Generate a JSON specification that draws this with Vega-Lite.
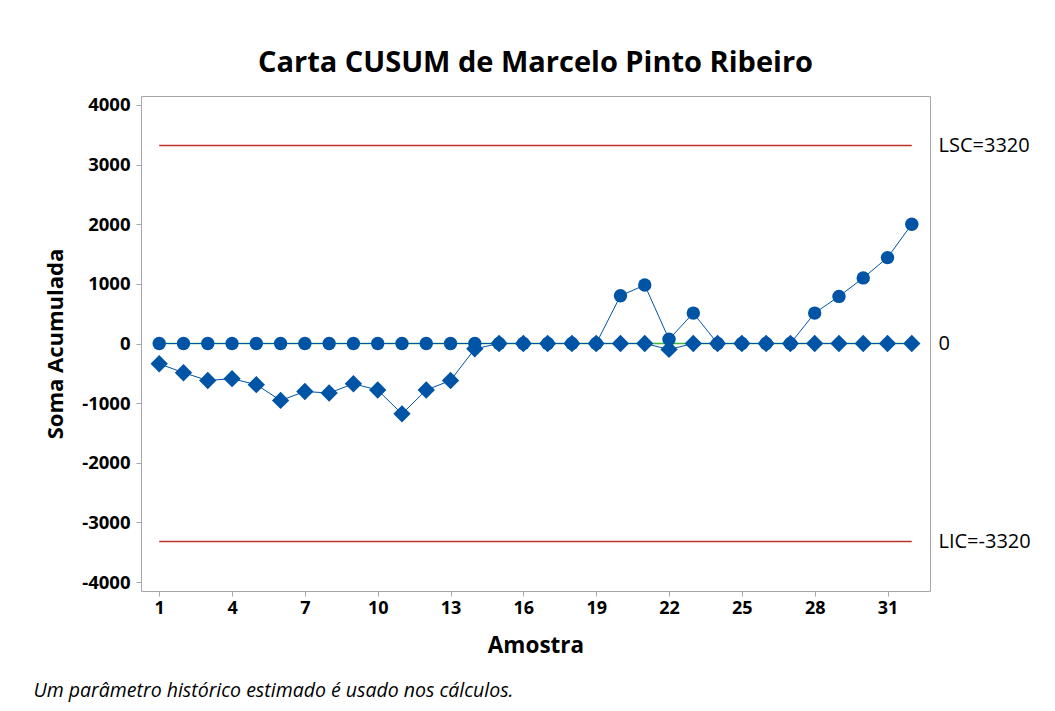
{
  "$schema": "https://vega.github.io/schema/vega-lite/v6.json",
  "width": 789,
  "height": 495,
  "autosize": {"type": "none"},
  "padding": {"left": 141, "top": 96, "right": 125, "bottom": 120},
  "background": "white",
  "config": {
    "font": "Open Sans",
    "view": {"stroke": "#A6A6A6", "strokeWidth": 1}
  },
  "title": {
    "text": "Carta CUSUM de Marcelo Pinto Ribeiro",
    "fontSize": 29,
    "fontWeight": "bold",
    "font": "Open Sans",
    "color": "#000000",
    "anchor": "middle",
    "offset": 18
  },
  "datasets": {
    "cusum": [
      {"amostra": 1, "serie": "Superior", "cusum": 0},
      {"amostra": 2, "serie": "Superior", "cusum": 0},
      {"amostra": 3, "serie": "Superior", "cusum": 0},
      {"amostra": 4, "serie": "Superior", "cusum": 0},
      {"amostra": 5, "serie": "Superior", "cusum": 0},
      {"amostra": 6, "serie": "Superior", "cusum": 0},
      {"amostra": 7, "serie": "Superior", "cusum": 0},
      {"amostra": 8, "serie": "Superior", "cusum": 0},
      {"amostra": 9, "serie": "Superior", "cusum": 0},
      {"amostra": 10, "serie": "Superior", "cusum": 0},
      {"amostra": 11, "serie": "Superior", "cusum": 0},
      {"amostra": 12, "serie": "Superior", "cusum": 0},
      {"amostra": 13, "serie": "Superior", "cusum": 0},
      {"amostra": 14, "serie": "Superior", "cusum": 0},
      {"amostra": 15, "serie": "Superior", "cusum": 0},
      {"amostra": 16, "serie": "Superior", "cusum": 0},
      {"amostra": 17, "serie": "Superior", "cusum": 0},
      {"amostra": 18, "serie": "Superior", "cusum": 0},
      {"amostra": 19, "serie": "Superior", "cusum": 0},
      {"amostra": 20, "serie": "Superior", "cusum": 800},
      {"amostra": 21, "serie": "Superior", "cusum": 980},
      {"amostra": 22, "serie": "Superior", "cusum": 70},
      {"amostra": 23, "serie": "Superior", "cusum": 510},
      {"amostra": 24, "serie": "Superior", "cusum": 0},
      {"amostra": 25, "serie": "Superior", "cusum": 0},
      {"amostra": 26, "serie": "Superior", "cusum": 0},
      {"amostra": 27, "serie": "Superior", "cusum": 0},
      {"amostra": 28, "serie": "Superior", "cusum": 510},
      {"amostra": 29, "serie": "Superior", "cusum": 790},
      {"amostra": 30, "serie": "Superior", "cusum": 1100},
      {"amostra": 31, "serie": "Superior", "cusum": 1440},
      {"amostra": 32, "serie": "Superior", "cusum": 2000},
      {"amostra": 1, "serie": "Inferior", "cusum": -340},
      {"amostra": 2, "serie": "Inferior", "cusum": -490},
      {"amostra": 3, "serie": "Inferior", "cusum": -620},
      {"amostra": 4, "serie": "Inferior", "cusum": -590},
      {"amostra": 5, "serie": "Inferior", "cusum": -690},
      {"amostra": 6, "serie": "Inferior", "cusum": -955},
      {"amostra": 7, "serie": "Inferior", "cusum": -805},
      {"amostra": 8, "serie": "Inferior", "cusum": -830},
      {"amostra": 9, "serie": "Inferior", "cusum": -675},
      {"amostra": 10, "serie": "Inferior", "cusum": -780},
      {"amostra": 11, "serie": "Inferior", "cusum": -1180},
      {"amostra": 12, "serie": "Inferior", "cusum": -780},
      {"amostra": 13, "serie": "Inferior", "cusum": -620},
      {"amostra": 14, "serie": "Inferior", "cusum": -90},
      {"amostra": 15, "serie": "Inferior", "cusum": 0},
      {"amostra": 16, "serie": "Inferior", "cusum": 0},
      {"amostra": 17, "serie": "Inferior", "cusum": 0},
      {"amostra": 18, "serie": "Inferior", "cusum": 0},
      {"amostra": 19, "serie": "Inferior", "cusum": 0},
      {"amostra": 20, "serie": "Inferior", "cusum": 0},
      {"amostra": 21, "serie": "Inferior", "cusum": 0},
      {"amostra": 22, "serie": "Inferior", "cusum": -100},
      {"amostra": 23, "serie": "Inferior", "cusum": 0},
      {"amostra": 24, "serie": "Inferior", "cusum": 0},
      {"amostra": 25, "serie": "Inferior", "cusum": 0},
      {"amostra": 26, "serie": "Inferior", "cusum": 0},
      {"amostra": 27, "serie": "Inferior", "cusum": 0},
      {"amostra": 28, "serie": "Inferior", "cusum": 0},
      {"amostra": 29, "serie": "Inferior", "cusum": 0},
      {"amostra": 30, "serie": "Inferior", "cusum": 0},
      {"amostra": 31, "serie": "Inferior", "cusum": 0},
      {"amostra": 32, "serie": "Inferior", "cusum": 0}
    ],
    "limites": [
      {"nome": "LSC", "valor": 3320, "ini": 1, "fim": 32},
      {"nome": "LIC", "valor": -3320, "ini": 1, "fim": 32}
    ],
    "centro": [
      {"nome": "Centro", "valor": 0, "ini": 1, "fim": 32}
    ]
  },
  "layer": [
    {
      "data": {"name": "centro"},
      "mark": {"type": "rule", "strokeWidth": 1.5},
      "encoding": {
        "color": {"value": "#3DB83D"},
        "x": {
          "field": "ini",
          "type": "quantitative",
          "scale": {"domain": [0.25, 32.75], "nice": false, "zero": false},
          "axis": {
            "orient": "bottom",
            "values": [1, 4, 7, 10, 13, 16, 19, 22, 25, 28, 31],
            "domain": false,
            "grid": false,
            "ticks": true,
            "tickSize": 5,
            "tickColor": "#A6A6A6",
            "labelFlush": false,
            "labelFontSize": 18,
            "labelFontWeight": "bold",
            "labelColor": "#000000",
            "labelPadding": 3,
            "title": "Amostra",
            "titleFontSize": 22.5,
            "titleFontWeight": "bold",
            "titleColor": "#000000",
            "titleX": 394.5,
            "titleY": 54,
            "titleBaseline": "middle",
            "titleAlign": "center"
          }
        },
        "x2": {"field": "fim"},
        "y": {
          "field": "valor",
          "type": "quantitative",
          "scale": {"domain": [-4150, 4150], "nice": false, "zero": false},
          "axis": {
            "orient": "left",
            "values": [-4000, -3000, -2000, -1000, 0, 1000, 2000, 3000, 4000],
            "labelExpr": "'' + datum.value",
            "domain": false,
            "grid": false,
            "tickSize": 5,
            "tickColor": "#A6A6A6",
            "labelFontSize": 18.5,
            "labelFontWeight": "bold",
            "labelColor": "#000000",
            "labelPadding": 6,
            "title": "Soma Acumulada",
            "titleFontSize": 22,
            "titleFontWeight": "bold",
            "titleColor": "#000000",
            "titleAngle": -90,
            "titleX": -86,
            "titleY": 247.5,
            "titleBaseline": "middle",
            "titleAlign": "center"
          }
        }
      }
    },
    {
      "data": {"name": "limites"},
      "mark": {"type": "rule", "strokeWidth": 1.3},
      "encoding": {
        "color": {"value": "#C0312E"},
        "x": {"field": "ini", "type": "quantitative", "axis": null},
        "x2": {"field": "fim"},
        "y": {
          "field": "valor",
          "type": "quantitative",
          "axis": {
            "orient": "right",
            "values": [3320, 0, -3320],
            "labelExpr": "datum.value == 3320 ? 'LSC=3320' : (datum.value == -3320 ? 'LIC=-3320' : '0')",
            "domain": false,
            "grid": false,
            "ticks": false,
            "labelPadding": 8,
            "labelFontSize": 20,
            "labelFontWeight": "normal",
            "labelColor": "#000000",
            "title": null
          }
        }
      }
    },
    {
      "data": {"name": "cusum"},
      "mark": {"type": "line", "strokeWidth": 1},
      "encoding": {
        "color": {"value": "#0054A6"},
        "x": {
          "field": "amostra",
          "type": "quantitative",
          "axis": {
            "orient": "bottom",
            "labels": false,
            "ticks": false,
            "domain": false,
            "grid": false,
            "title": "Um parâmetro histórico estimado é usado nos cálculos.",
            "titleFontSize": 19.5,
            "titleFontWeight": "normal",
            "titleFontStyle": "italic",
            "titleColor": "#000000",
            "titleX": -108,
            "titleY": 99,
            "titleAlign": "left",
            "titleBaseline": "middle"
          }
        },
        "y": {"field": "cusum", "type": "quantitative", "axis": null},
        "detail": {"field": "serie", "type": "nominal"}
      }
    },
    {
      "data": {"name": "cusum"},
      "mark": {"type": "point", "filled": true, "opacity": 1},
      "encoding": {
        "color": {"value": "#0054A6"},
        "x": {"field": "amostra", "type": "quantitative", "axis": null},
        "y": {"field": "cusum", "type": "quantitative", "axis": null},
        "shape": {
          "field": "serie",
          "type": "nominal",
          "scale": {"domain": ["Superior", "Inferior"], "range": ["circle", "diamond"]},
          "legend": null
        },
        "size": {
          "field": "serie",
          "type": "nominal",
          "scale": {"domain": ["Superior", "Inferior"], "range": [180, 300]},
          "legend": null
        }
      }
    }
  ],
  "resolve": {"axis": {"x": "independent", "y": "independent"}}
}
